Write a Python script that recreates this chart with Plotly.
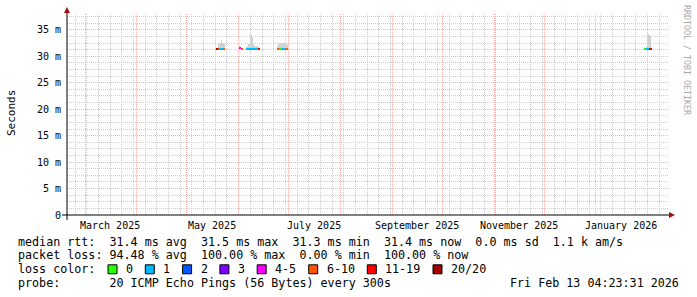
import plotly.graph_objects as go
import pandas as pd

# ---------------- data ----------------
graph_start = "2025-02-18 04:23:31"
graph_end = "2026-02-13 04:23:31"

bucket_times = (
    ["2025-05-19 00:00", "2025-05-19 12:00", "2025-05-20 00:00", "2025-05-20 12:00", "2025-05-21 00:00",
     "2025-05-21 12:00", "2025-05-22 00:00", "2025-05-22 12:00", "2025-05-23 00:00", "2025-05-23 12:00"]
    + ["2025-06-01 12:00", "2025-06-02 00:00", "2025-06-02 12:00", "2025-06-03 00:00", "2025-06-03 12:00"]
    + ["2025-06-06 00:00", "2025-06-06 12:00", "2025-06-07 00:00", "2025-06-07 12:00", "2025-06-08 00:00",
       "2025-06-08 12:00", "2025-06-09 00:00", "2025-06-09 12:00", "2025-06-10 00:00", "2025-06-10 12:00",
       "2025-06-11 00:00", "2025-06-11 12:00", "2025-06-12 00:00", "2025-06-12 12:00", "2025-06-13 00:00",
       "2025-06-13 12:00"]
    + ["2025-06-24 00:00", "2025-06-24 12:00", "2025-06-25 00:00", "2025-06-25 12:00", "2025-06-26 00:00",
       "2025-06-26 12:00", "2025-06-27 00:00", "2025-06-27 12:00", "2025-06-28 00:00", "2025-06-28 12:00",
       "2025-06-29 00:00", "2025-06-29 12:00", "2025-06-30 00:00", "2025-06-30 12:00"]
    + ["2026-01-30 00:00", "2026-01-30 12:00", "2026-01-31 00:00", "2026-01-31 12:00", "2026-02-01 00:00",
       "2026-02-01 12:00", "2026-02-02 00:00", "2026-02-02 12:00", "2026-02-03 00:00"]
)
median_ms = (
    [31.4] * 10
    + [31.5, 31.5, 31.3, 31.3, 31.3]
    + [31.4] * 16
    + [31.4] * 14
    + [31.4] * 9
)
loss_pings = (
    [20, 20, 8, 1, 1, 1, 1, 1, 7, 7]
    + [5, 5, 9, 9, 9]
    + [1] * 14 + [12, 12]
    + [20, 8, 8, 0, 0, 0, 1, 1, 1, 1, 1, 7, 7, 7]
    + [0, 0, 0, 1, 1, 1, 2, 12, 12]
)
smoke_lo_ms = [31.3] * len(bucket_times)
smoke_hi_ms = (
    [31.3, 31.3, 32.4, 32.5, 32.5, 33.0, 32.6, 32.5, 32.4, 32.3]
    + [31.9, 31.8, 31.3, 31.3, 31.3]
    + [31.7, 32.0, 32.4, 32.6, 34.0, 34.0, 33.6, 32.8, 32.5, 32.0, 32.0, 31.9, 31.9, 31.8, 31.7, 31.6]
    + [31.3, 32.0, 32.6, 32.6, 32.5, 32.5, 32.5, 32.5, 32.5, 32.5, 32.5, 32.4, 32.2, 31.3]
    + [31.3, 31.5, 31.6, 31.8, 34.2, 34.2, 34.0, 33.8, 31.7]
)

y_tick_values = [0, 5, 10, 15, 20, 25, 30, 35]
y_tick_labels = ["0", "5 m", "10 m", "15 m", "20 m", "25 m", "30 m", "35 m"]
x_label_dates = ["2025-03-16", "2025-05-16", "2025-07-16", "2025-09-16", "2025-11-16", "2026-01-16"]
x_label_text = ["March 2025", "May 2025", "July 2025", "September 2025", "November 2025", "January 2026"]

loss_labels = ["0", "1", "2", "3", "4-5", "6-10", "11-19", "20/20"]
loss_upper = [0, 1, 2, 3, 5, 10, 19, 20]
loss_colors = ["#26ff00", "#00b8ff", "#0059ff", "#7e00ff", "#ff00ff", "#ff5500", "#ff0000", "#a10000"]

rtt_stats = ["median rtt:", "31.4 ms avg", "31.5 ms max", "31.3 ms min", "31.4 ms now", "0.0 ms sd", "1.1 k am/s"]
loss_stats = ["packet loss:", "94.48 % avg", "100.00 % max", "0.00 % min", "100.00 % now"]
probe_text = "probe:       20 ICMP Echo Pings (56 Bytes) every 300s"
stamp_text = "Fri Feb 13 04:23:31 2026"

# ---------------- layout helpers ----------------
W, H = 697, 297
PL, PR, PT, PB = 67, 668, 14, 215
FONT = "DejaVu Sans Mono"
LEG_SIZE = 11.7
CW = 7.1


def px_x(px):
    return (px - PL) / (PR - PL)


def px_y(py):
    return (PB - py) / (PB - PT)


def loss_color(n):
    for up, c in zip(loss_upper, loss_colors):
        if n <= up:
            return c
    return loss_colors[-1]


times = pd.to_datetime(bucket_times)
bar_w = 0.6 * 86400000
med_half = 0.19

fig = go.Figure()
fig.add_trace(go.Bar(
    x=times, y=[h - l for h, l in zip(smoke_hi_ms, smoke_lo_ms)], base=smoke_lo_ms,
    width=bar_w, marker=dict(color="#d2d2d2", line=dict(width=0)), hoverinfo="skip"))
fig.add_trace(go.Bar(
    x=times, y=[2 * med_half] * len(times), base=[m - med_half for m in median_ms],
    width=bar_w, marker=dict(color=[loss_color(n) for n in loss_pings], line=dict(width=0)),
    hoverinfo="skip"))

MAJOR = "rgb(248,178,178)"
MINOR = "rgb(205,205,205)"

month_starts = pd.date_range("2025-03-01", "2026-02-01", freq="MS")

fig.update_layout(
    width=W, height=H, autosize=False,
    margin=dict(l=PL, r=W - PR, t=PT, b=H - PB, pad=0),
    paper_bgcolor="white", plot_bgcolor="white",
    showlegend=False, barmode="overlay", bargap=0,
    font=dict(family=FONT, color="black"),
    xaxis=dict(
        type="date", range=[graph_start, graph_end], tickmode="array", tickvals=month_starts,
        showticklabels=False, ticks="", showgrid=True, gridcolor=MAJOR, griddash="1px,1px", gridwidth=1,
        minor=dict(dtick=7 * 86400000, tick0="2025-02-23", showgrid=True, gridcolor=MINOR,
                   griddash="1px,1px", gridwidth=1, ticks=""),
        showline=False, zeroline=False, fixedrange=True),
    yaxis=dict(
        range=[0, 38], tickmode="array", tickvals=y_tick_values, ticktext=y_tick_labels,
        tickfont=dict(size=10, family=FONT, color="black"), ticks="", ticklabelstandoff=5,
        showgrid=True, gridcolor=MAJOR, griddash="1px,1px", gridwidth=1,
        minor=dict(dtick=1.25, tick0=0, showgrid=True, gridcolor=MINOR, griddash="1px,1px",
                   gridwidth=1, ticks=""),
        showline=False, zeroline=False, fixedrange=True),
)

shapes = []
AX = "#000000"
ARROW = "#a01010"
# axis lines
shapes.append(dict(type="line", xref="paper", yref="paper", x0=px_x(PL), x1=px_x(PL),
                   y0=px_y(PB + 5), y1=px_y(11), line=dict(color=AX, width=1)))
shapes.append(dict(type="line", xref="paper", yref="paper", x0=px_x(PL - 5), x1=px_x(PR + 1),
                   y0=px_y(PB), y1=px_y(PB), line=dict(color=AX, width=1)))
# arrows
shapes.append(dict(type="path", xref="paper", yref="paper",
                   path=f"M{px_x(PL - 3)},{px_y(13)} L{px_x(PL + 3)},{px_y(13)} L{px_x(PL)},{px_y(7)} Z",
                   fillcolor=ARROW, line=dict(width=0)))
shapes.append(dict(type="path", xref="paper", yref="paper",
                   path=f"M{px_x(PR + 1)},{px_y(PB - 3)} L{px_x(PR + 1)},{px_y(PB + 3)} L{px_x(PR + 7)},{px_y(PB)} Z",
                   fillcolor=ARROW, line=dict(width=0)))

annotations = []


def nb(s):
    return s.replace(" ", "\u00a0")


def add_text(text, px, py, size=LEG_SIZE, xanchor="left", color="black", angle=0):
    annotations.append(dict(text=nb(text), xref="paper", yref="paper", x=px_x(px), y=px_y(py),
                            xanchor=xanchor, yanchor="middle", showarrow=False, textangle=angle,
                            font=dict(family=FONT, size=size, color=color)))


# x labels through the x axis scale
for d, t in zip(x_label_dates, x_label_text):
    annotations.append(dict(text=nb(t), xref="x", yref="paper", x=d, y=px_y(225), xanchor="center",
                            yanchor="middle", showarrow=False, font=dict(family=FONT, size=10, color="black")))

add_text("Seconds", 11, 113, size=11, xanchor="center", angle=-90)
add_text("RRDTOOL / TOBI OETIKER", 687, 60, size=8.3, xanchor="center", color="#a8a8a8", angle=90)

L1, L2, L3, L4 = 241.5, 255.3, 269.3, 283.2
add_text("  ".join(rtt_stats), 16, L1)
add_text(loss_stats[0] + " " + "  ".join(loss_stats[1:]), 16, L2)
add_text("loss color:", 16, L3)
bx = 108
for lab, col in zip(loss_labels, loss_colors):
    shapes.append(dict(type="rect", xref="paper", yref="paper", x0=px_x(bx), x1=px_x(bx + 9),
                       y0=px_y(L3 + 4.5), y1=px_y(L3 - 4.5), fillcolor=col, line=dict(color="black", width=1)))
    add_text(lab, bx + 16, L3)
    bx += 16 + (len(lab) + 2) * CW
add_text(probe_text, 16, L4)
add_text(stamp_text, 681, L4, xanchor="right")

fig.update_layout(shapes=shapes, annotations=annotations)
fig.write_html("out.html", config={"displayModeBar": False, "staticPlot": True})
